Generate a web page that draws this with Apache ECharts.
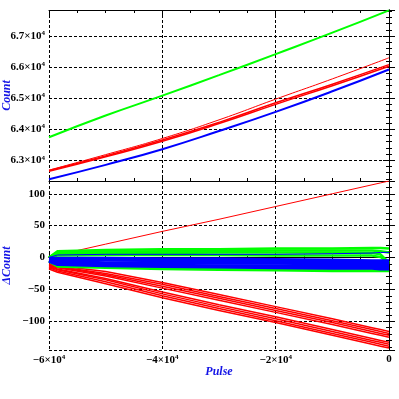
<!DOCTYPE html>
<html>
<head>
<meta charset="utf-8">
<script src="https://cdn.jsdelivr.net/npm/echarts@6/dist/echarts.min.js"></script>
<style>
  html, body { margin: 0; padding: 0; background: #fff; }
  #chart { width: 399px; height: 399px; }
</style>
</head>
<body>
<div id="chart"></div>
<script>
// tick labels
const pulseTicks = [-60000, -40000, -20000, 0];
const countTicks = [63000, 64000, 65000, 66000, 67000];
const deltaTicks = [-100, -50, 0, 50, 100];

// top panel: Count vs Pulse
const topPulse = [-60000, -50000, -40000, -30000, -20000, -10000, 0];
const countGreen = [63740, 64440, 65080, 65740, 66420, 67110, 67830];
const countBlue = [62387, 62850, 63355, 63940, 64558, 65220, 65923];
const countRedA = [62640, 63110, 63610, 64180, 64800, 65400, 66030];
const countRedB = [62670, 63140, 63650, 64220, 64850, 65450, 66080];
const countRedThin = [62680, 63180, 63700, 64300, 64968, 65620, 66300];

// bottom panel: ΔCount vs Pulse
const botPulse = [-60000, -58500, -50000, -40000, -30000, -20000, -10000, -3000, -1500, 0];
const deltaRedRise = [0, 4, 21, 41, 60, 80, 100, 114, 117, 120];
const deltaRedUp1 = [-10, -13, -22, -39, -58, -77, -96, -110, -113, -116];
const deltaRedUp2 = [-11, -14, -25, -42, -61, -80, -99, -113, -116, -119];
const deltaRedUp3 = [-12, -15, -27, -45, -64, -83, -102, -116, -119, -122];
const deltaRedUp4 = [-13, -16, -29, -48, -67, -86, -105, -119, -122, -125];
const deltaRedLo1 = [-14, -18, -33, -54, -74, -93, -113, -127, -130, -133];
const deltaRedLo2 = [-15, -19, -35, -57, -77, -96, -116, -130, -133, -136];
const deltaRedLo3 = [-16, -21, -38, -60, -80, -99, -119, -133, -136, -139];
const deltaRedLo4 = [-18, -23, -41, -63, -83, -102, -122, -136, -139, -142];
const deltaGreen1 = [0, 10, 12, 13, 13, 14, 14, 15, 15, 14];
const deltaGreen2 = [0, 8, 9, 10, 10, 11, 11, 11, 10, 8];
const deltaGreen3 = [0, 6, 7, 7, 8, 8, 8, 7, 5, -8];
const deltaGreen4 = [0, 3, 4, 4, 4, 3, 3, 3, 1, -10];
const deltaGreen5 = [-5, -12, -14, -16, -17, -18, -19, -19, -19, -19];
const deltaGreen6 = [-6, -14, -16, -18, -19, -20, -21, -21, -21, -21];
const deltaBlue1 = [0, 4, 5, 5, 5, 5, 6, 7, 8, 8];
const deltaBlue2 = [-1, -1, -1, -2, -2, -3, -4, -5, -5, -5];
const deltaBlue3 = [-2, -3, -4, -5, -5, -6, -7, -8, -8, -8];
const deltaBlue4 = [-4, -6, -8, -8, -9, -9, -10, -11, -11, -11];
const deltaBlue5 = [-5, -9, -11, -12, -13, -13, -14, -14, -14, -14];
const deltaBlue6 = [-6, -11, -13, -14, -15, -16, -17, -17, -18, -18];

const chart = echarts.init(document.getElementById("chart"));

const font = "Liberation Serif";
const labelRich = {
  a: { fontSize: 11, fontFamily: font, fontWeight: "bold", color: "#000" },
  s: { fontSize: 7, fontFamily: font, fontWeight: "bold", color: "#000", verticalAlign: "top", padding: [0, 0, 5, 0] },
};
const titleStyle = {
  color: "#1414e6",
  fontFamily: font,
  fontStyle: "italic",
  fontWeight: "bold",
  fontSize: 12,
};

// "6.7×10^4" style labels
function sci(v) {
  if (v === 0) return "{a|0}";
  const m = v / 1e4;
  const s = String(Math.abs(m));
  return "{a|" + (m < 0 ? "\u2212" : "") + s + "\u00d710}{s|4}";
}

const pairs = (xs, ys) => xs.map((x, i) => [x, ys[i]]);

const tickCommon = {
  axisLine: { show: true, lineStyle: { color: "#000", width: 1 } },
  axisTick: { show: true, inside: true, length: 6, lineStyle: { color: "#000" } },
  minorTick: { show: true, length: 3, lineStyle: { color: "#000" } },
};
const gridDash = { show: true, lineStyle: { color: "#000", type: [3, 2], width: 1 } };

function xAx(gridIndex, position, extra) {
  return Object.assign({
    type: "value",
    gridIndex: gridIndex,
    position: position,
    min: -60000,
    max: 0,
    interval: 20000,
    axisLabel: { show: false },
    splitLine: { show: false },
  }, tickCommon, { minorTick: Object.assign({}, tickCommon.minorTick, { splitNumber: 4 }) }, extra);
}

function yAx(gridIndex, position, min, max, step, extra) {
  return Object.assign({
    type: "value",
    gridIndex: gridIndex,
    position: position,
    min: min,
    max: max,
    minInterval: step,
    maxInterval: step,
    axisLabel: { show: false },
    splitLine: { show: false },
  }, tickCommon, { minorTick: Object.assign({}, tickCommon.minorTick, { splitNumber: 5 }) }, extra);
}

function line(xi, yi, xs, ys, color, width, smooth) {
  return {
    type: "line",
    xAxisIndex: xi,
    yAxisIndex: yi,
    data: pairs(xs, ys),
    symbol: "none",
    smooth: smooth,
    lineStyle: { color: color, width: width },
    silent: true,
  };
}

const option = {
  animation: false,
  backgroundColor: "#fff",
  grid: [
    { left: 49, right: 10, top: 10, height: 171, containLabel: false, outerBoundsMode: "none" },
    { left: 49, right: 10, top: 181, height: 169, containLabel: false, outerBoundsMode: "none" },
  ],
  xAxis: [
    xAx(0, "bottom", { splitLine: gridDash }),
    xAx(0, "top", {}),
    xAx(1, "bottom", {
      splitLine: gridDash,
      name: "Pulse",
      nameLocation: "middle",
      nameGap: 16,
      nameMoveOverlap: false,
      nameTextStyle: titleStyle,
      axisLabel: {
        show: true,
        margin: 4,
        rich: labelRich,
        formatter: (v) => (pulseTicks.includes(v) ? sci(v) : ""),
      },
    }),
    xAx(1, "top", {}),
  ],
  yAxis: [
    yAx(0, "left", 62330, 67840, 1000, {
      splitLine: gridDash,
      name: "Count",
      nameLocation: "middle",
      nameRotate: 90,
      nameGap: 36,
      nameMoveOverlap: false,
      nameTextStyle: titleStyle,
      axisLabel: {
        show: true,
        margin: 4,
        rich: labelRich,
        formatter: (v) => (countTicks.includes(v) ? sci(v) : ""),
      },
    }),
    yAx(0, "right", 62330, 67840, 1000, {}),
    yAx(1, "left", -145, 120, 50, {
      splitLine: gridDash,
      name: "\u0394Count",
      nameLocation: "middle",
      nameRotate: 90,
      nameGap: 36,
      nameMoveOverlap: false,
      nameTextStyle: titleStyle,
      axisLabel: {
        show: true,
        margin: 4,
        rich: labelRich,
        formatter: (v) => (deltaTicks.includes(v) ? "{a|" + String(v).replace("-", "\u2212") + "}" : ""),
      },
    }),
    yAx(1, "right", -145, 120, 50, {}),
  ],
  series: [
    line(0, 0, topPulse, countRedThin, "#ff0000", 1, true),
    line(0, 0, topPulse, countRedA, "#ff0000", 1.5, true),
    line(0, 0, topPulse, countRedB, "#ff0000", 1.5, true),
    line(0, 0, topPulse, countBlue, "#0000ff", 2, true),
    line(0, 0, topPulse, countGreen, "#00ff00", 2, true),

    line(2, 2, botPulse, deltaRedRise, "#ff0000", 1, false),
    line(2, 2, botPulse, deltaRedUp1, "#ff0000", 1.5, false),
    line(2, 2, botPulse, deltaRedUp2, "#ff0000", 1.5, false),
    line(2, 2, botPulse, deltaRedUp3, "#ff0000", 1.5, false),
    line(2, 2, botPulse, deltaRedUp4, "#ff0000", 1.5, false),
    line(2, 2, botPulse, deltaRedLo1, "#ff0000", 1.5, false),
    line(2, 2, botPulse, deltaRedLo2, "#ff0000", 1.5, false),
    line(2, 2, botPulse, deltaRedLo3, "#ff0000", 1.5, false),
    line(2, 2, botPulse, deltaRedLo4, "#ff0000", 1.5, false),
    line(2, 2, botPulse, deltaGreen1, "#00ff00", 2.5, false),
    line(2, 2, botPulse, deltaGreen2, "#00ff00", 2.5, false),
    line(2, 2, botPulse, deltaGreen3, "#00ff00", 2.5, false),
    line(2, 2, botPulse, deltaGreen4, "#00ff00", 2.5, false),
    line(2, 2, botPulse, deltaGreen5, "#00ff00", 2.5, false),
    line(2, 2, botPulse, deltaGreen6, "#00ff00", 2.5, false),
    line(2, 2, botPulse, deltaBlue1, "#0000ff", 1, false),
    line(2, 2, botPulse, deltaBlue2, "#0000ff", 3, false),
    line(2, 2, botPulse, deltaBlue3, "#0000ff", 3, false),
    line(2, 2, botPulse, deltaBlue4, "#0000ff", 3, false),
    line(2, 2, botPulse, deltaBlue5, "#0000ff", 3, false),
    line(2, 2, botPulse, deltaBlue6, "#0000ff", 3, false),
  ],
};

chart.setOption(option);
</script>
</body>
</html>
